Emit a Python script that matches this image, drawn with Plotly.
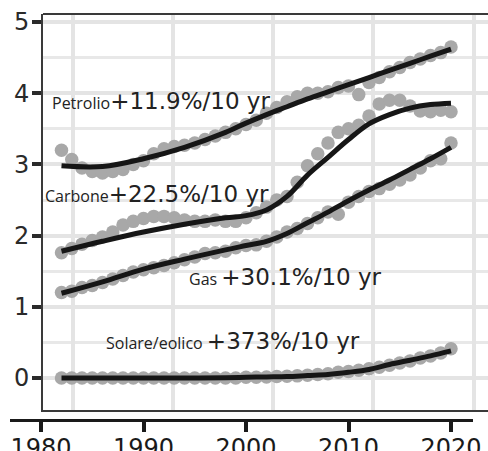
import plotly.graph_objects as go

# ---------------- data ----------------
years = list(range(1982, 2021))

oil_pts = [3.20, 3.07, 2.95, 2.90, 2.88, 2.90, 2.93, 3.00, 3.05, 3.15,
           3.22, 3.25, 3.27, 3.30, 3.35, 3.40, 3.45, 3.50, 3.56, 3.62,
           3.72, 3.80, 3.88, 3.95, 4.00, 4.00, 4.02, 4.08, 4.10, 3.98,
           4.15, 4.22, 4.30, 4.36, 4.43, 4.48, 4.53, 4.57, 4.65]
coal_pts = [1.76, 1.82, 1.88, 1.93, 1.98, 2.05, 2.15, 2.20, 2.24, 2.27,
            2.27, 2.25, 2.22, 2.20, 2.20, 2.22, 2.20, 2.20, 2.25, 2.32,
            2.40, 2.50, 2.55, 2.75, 2.98, 3.15, 3.30, 3.45, 3.50, 3.55,
            3.68, 3.85, 3.90, 3.90, 3.82, 3.75, 3.74, 3.76, 3.74]
gas_pts = [1.20, 1.22, 1.27, 1.30, 1.34, 1.39, 1.44, 1.49, 1.52, 1.55,
           1.58, 1.62, 1.66, 1.70, 1.75, 1.76, 1.78, 1.83, 1.86, 1.87,
           1.92, 1.98, 2.05, 2.10, 2.17, 2.25, 2.33, 2.30, 2.47, 2.55,
           2.62, 2.66, 2.72, 2.78, 2.85, 2.95, 3.05, 3.08, 3.30]
solar_pts = [0.00, 0.00, 0.00, 0.00, 0.00, 0.00, 0.00, 0.00, 0.00, 0.00,
             0.00, 0.00, 0.00, 0.00, 0.00, 0.00, 0.00, 0.00, 0.01, 0.01,
             0.015, 0.02, 0.025, 0.03, 0.04, 0.05, 0.06, 0.08, 0.09, 0.11,
             0.13, 0.15, 0.18, 0.21, 0.24, 0.28, 0.31, 0.35, 0.41]

fit_years = [1982, 1986, 1990, 1994, 1998, 2000, 2002, 2004, 2006, 2008,
             2010, 2012, 2014, 2016, 2018, 2020]
oil_fit = [2.98, 2.97, 3.08, 3.24, 3.45, 3.58, 3.70, 3.81, 3.92, 4.02,
           4.12, 4.22, 4.32, 4.42, 4.52, 4.62]
coal_fit = [1.78, 1.92, 2.05, 2.16, 2.25, 2.28, 2.36, 2.55, 2.85, 3.10,
            3.35, 3.57, 3.70, 3.79, 3.84, 3.86]
gas_fit = [1.19, 1.35, 1.53, 1.67, 1.80, 1.86, 1.92, 2.03, 2.18, 2.33,
           2.49, 2.64, 2.78, 2.93, 3.08, 3.24]
solar_fit = [0.00, 0.00, 0.00, 0.00, 0.005, 0.01, 0.015, 0.02, 0.035, 0.05,
             0.08, 0.12, 0.19, 0.25, 0.31, 0.38]

labels = [
    ("Petrolio", "+11.9%/10 yr", 1980.9, 3.89),
    ("Carbone", "+22.5%/10 yr", 1980.2, 2.58),
    ("Gas ", "+30.1%/10 yr", 1994.24, 1.42),
    ("Solare/eolico ", "+373%/10 yr", 1986.15, 0.52),
]

x_ticks = [1980, 1990, 2000, 2010, 2020]
y_ticks = [0, 1, 2, 3, 4, 5]
grid_years = [1983.12, 1992.88, 2002.63, 2012.39, 2022.24]

# ---------------- figure ----------------
W, H = 488, 451
ppy = 10.25          # pixels per year
x0px = 41            # pixel of 1980
def yr(p):
    return 1980 + (p - x0px) / ppy

L, R, T, B = 10, 0, 14, 32
pw = W - L - R
ph = H - T - B

fig = go.Figure()

PT = "#a8a8a8"
LN = "#161616"
series = [(oil_pts, oil_fit), (coal_pts, coal_fit),
          (gas_pts, gas_fit), (solar_pts, solar_fit)]
for pts, fit in series:
    fig.add_trace(go.Scatter(x=years, y=pts, mode="markers", xaxis="x", yaxis="y",
                             marker=dict(size=13.5, color=PT, line=dict(width=0)),
                             showlegend=False, hoverinfo="skip", cliponaxis=False))
for pts, fit in series:
    fig.add_trace(go.Scatter(x=fit_years, y=fit, mode="lines", xaxis="x", yaxis="y",
                             line=dict(color=LN, width=5, shape="spline", smoothing=1.0),
                             showlegend=False, hoverinfo="skip"))

# dummy trace for the separate bottom year axis
fig.add_trace(go.Scatter(x=x_ticks, y=[None] * len(x_ticks), xaxis="x2", yaxis="y2",
                         mode="markers", showlegend=False, hoverinfo="skip"))

for small, big, xa, ya in labels:
    fig.add_annotation(
        x=xa, y=ya, xref="x", yref="y", xanchor="left", yanchor="middle",
        showarrow=False,
        text=(f"<span style='font-family:\"Open Sans\";font-size:16px'>{small}</span>"
              f"<span style='font-size:23px'>{big}</span>"),
        font=dict(family="DejaVu Sans", size=23, color="#222222"),
    )

# top border of the panel
fig.add_shape(type="line", xref="x domain", yref="y domain",
              x0=0, x1=1, y0=1, y1=1, line=dict(color="#3a3a3a", width=2))

fig.update_layout(
    width=W, height=H,
    margin=dict(l=L, r=R, t=T, b=B, pad=0, autoexpand=False),
    paper_bgcolor="white", plot_bgcolor="white",
    xaxis=dict(
        domain=[(43 - L) / pw, 1], range=[yr(43), yr(488)], anchor="y",
        tickvals=grid_years, showticklabels=False, ticks="",
        showgrid=True, gridcolor="#e4e4e4", gridwidth=3.5,
        showline=True, linecolor="#3a3a3a", linewidth=2,
        zeroline=False, fixedrange=True, automargin=False,
    ),
    yaxis=dict(
        domain=[(419 - 410) / ph, 1], anchor="x",
        range=[(378 - 410) / 71.2, (378 - 14) / 71.2],
        tickvals=y_ticks, ticks="outside", ticklen=9, tickwidth=4,
        tickcolor="#2a2a2a", ticklabelstandoff=-2,
        tickfont=dict(family="DejaVu Sans", size=24, color="#2a2a2a"),
        showgrid=True, gridcolor="#e4e4e4", gridwidth=3.5,
        minor=dict(dtick=0.5, showgrid=True, gridcolor="#e8e8e8", gridwidth=3),
        showline=True, linecolor="#3a3a3a", linewidth=2,
        zeroline=False, fixedrange=True, automargin=False,
    ),
    xaxis2=dict(
        domain=[0, (473 - L) / pw], range=[yr(L), yr(473)], anchor="y2",
        tickvals=x_ticks, ticktext=[str(t) for t in x_ticks],
        ticks="outside", ticklen=10, tickwidth=4, tickcolor="#1a1a1a",
        ticklabelstandoff=-5,
        showline=True, linecolor="#1a1a1a", linewidth=3,
        showgrid=False, zeroline=False, fixedrange=True, automargin=False,
        tickfont=dict(family="DejaVu Sans", size=24, color="#1a1a1a"),
    ),
    yaxis2=dict(
        domain=[0, 0.005], anchor="x2", range=[0, 1], visible=False,
        fixedrange=True, automargin=False,
    ),
)

fig.write_html("out.html")
